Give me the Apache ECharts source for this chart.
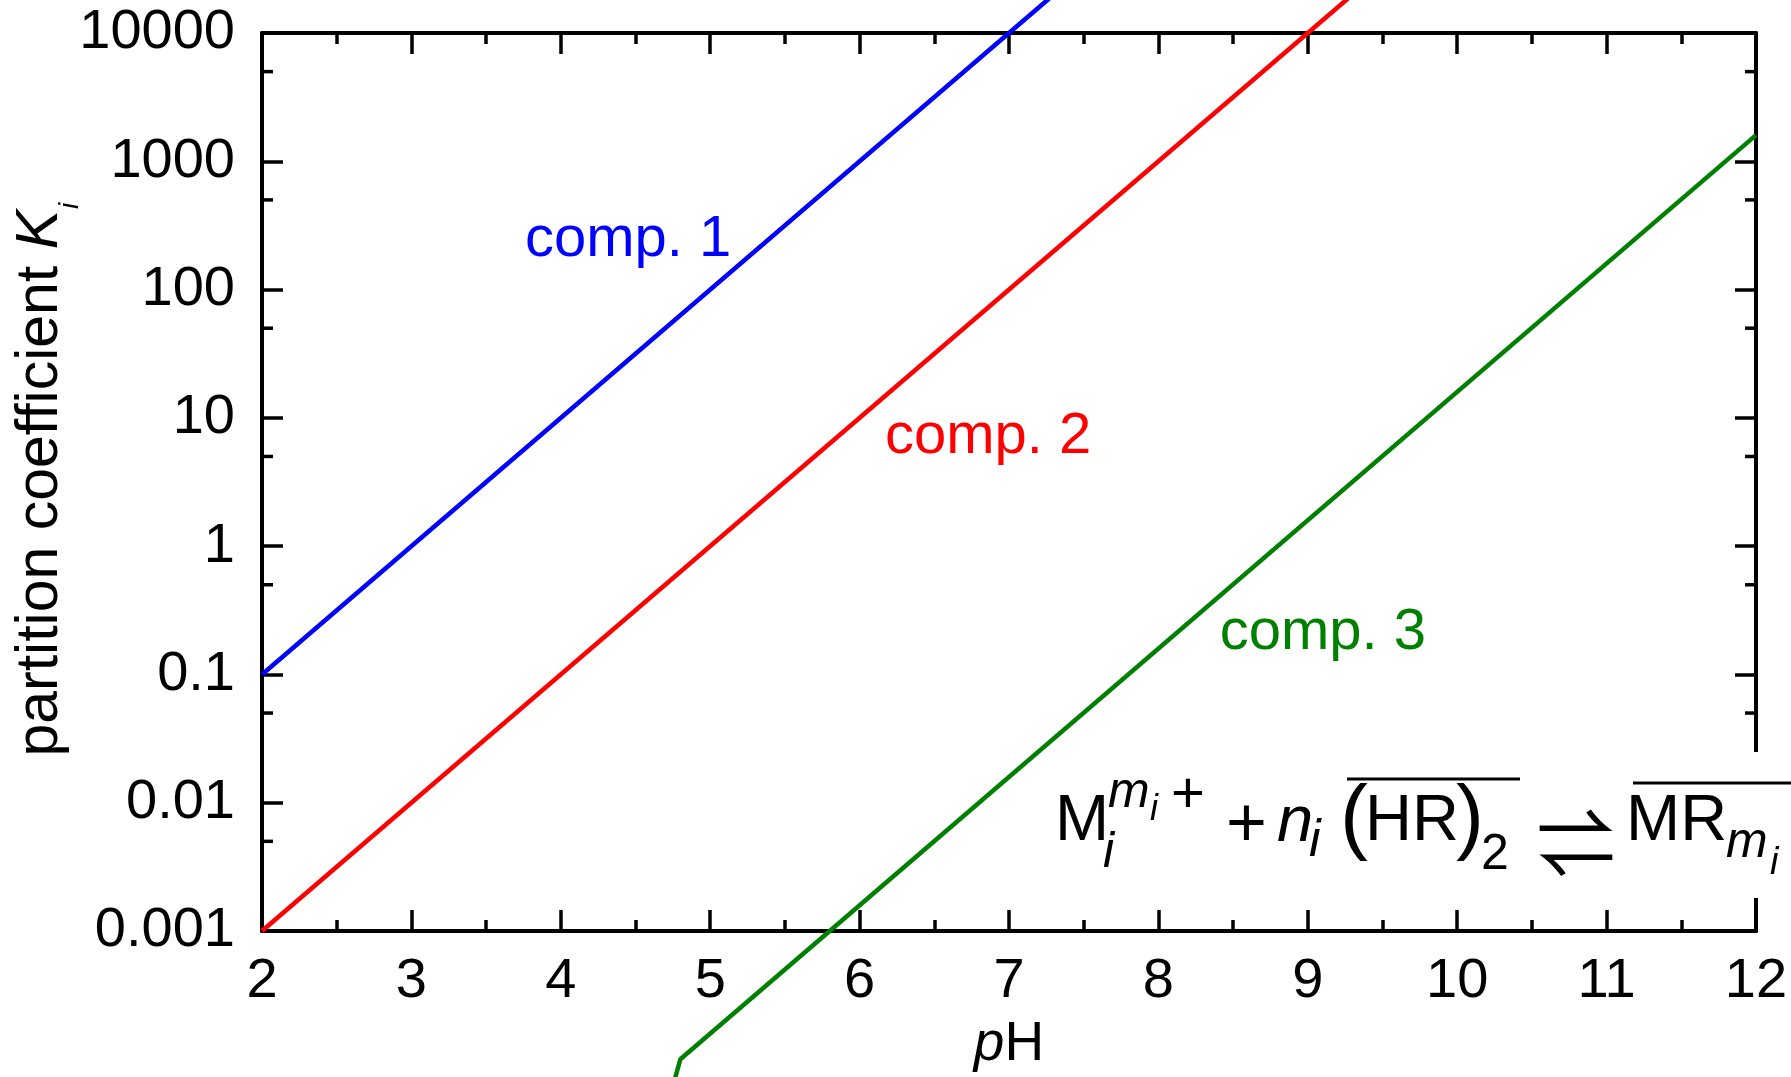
<!DOCTYPE html>
<html>
<head>
<meta charset="utf-8">
<script src="https://cdn.jsdelivr.net/npm/echarts@6/dist/echarts.min.js"></script>
<style>
  html, body { margin: 0; padding: 0; background: #fff; }
  #chart { width: 1791px; height: 1077px; }
</style>
</head>
<body>
<div id="chart"></div>
<script>
const FONT = '"Liberation Sans", Arial, sans-serif';

// pH range and log K tick labels
const xMin = 2;
const xMax = 12;
const yTickLabels = ['0.001', '0.01', '0.1', '1', '10', '100', '1000', '10000'];
const yMinorTicks = [0.005, 0.05, 0.5, 5, 50, 500, 5000];

// [pH, K]
const comp1 = [[2, 0.1], [7, 10000], [7.5, 31600]];
const comp2 = [[2, 0.001], [9, 10000], [9.5, 31600]];
const comp3 = [[4.7, 3.8e-5], [4.8, 1e-4], [5.8, 0.001], [12, 1600]];

const compNames = ['comp. 1', 'comp. 2', 'comp. 3'];
const compColors = ['#0000ff', '#ff0000', '#008000'];
const compLabelAt = [[3.76, 245], [6.17, 7.1], [8.41, 0.212]];

// equation pieces: text, x, baseline, size, italic
const eqParts = [
  ['M', 1055, 845, 65, false],
  ['m', 1108, 810, 50, true],
  ['i', 1150, 822, 36, true],
  ['+', 1171, 816, 58, false],
  ['i', 1103, 870, 50, true],
  ['+', 1226, 851, 70, false],
  ['n', 1277, 845, 65, true],
  ['i', 1309, 860, 52, true],
  ['(', 1340, 850, 84, false],
  ['HR', 1365, 845, 65, false],
  [')', 1456, 850, 84, false],
  ['2', 1481, 873, 50, false],
  ['MR', 1626, 845, 65, false],
  ['m', 1726, 860, 50, true],
  ['i', 1770, 877, 38, true]
];

const chart = echarts.init(document.getElementById('chart'));

function eqText(p) {
  return {
    type: 'text',
    x: p[1],
    y: p[2] - 0.3465 * p[3],
    z: 101,
    style: {
      text: p[0],
      fontFamily: FONT,
      fontSize: p[3],
      fontStyle: p[4] ? 'italic' : 'normal',
      fill: '#000',
      align: 'left',
      verticalAlign: 'middle'
    }
  };
}

function lineSeries(i, data) {
  return {
    name: compNames[i],
    type: 'line',
    data: data,
    clip: false,
    showSymbol: false,
    symbol: 'none',
    lineStyle: { color: compColors[i], width: 4.5 },
    z: 5,
    markPoint: {
      symbol: 'circle',
      symbolSize: 0,
      data: [{ coord: compLabelAt[i] }],
      label: {
        show: true,
        position: 'inside',
        formatter: compNames[i],
        align: 'left',
        verticalAlign: 'middle',
        color: compColors[i],
        fontFamily: FONT,
        fontSize: 58
      }
    }
  };
}

const axisLine = { show: true, onZero: false, lineStyle: { color: '#000', width: 4 } };
const tick = { show: true, inside: true, length: 21, lineStyle: { color: '#000', width: 3.5 } };
const minor = { show: true, splitNumber: 2, length: 11, lineStyle: { color: '#000', width: 3.5 } };

const option = {
  backgroundColor: '#fff',
  animation: false,
  grid: { left: 262, right: 35, top: 33, bottom: 145 },
  xAxis: [
    {
      type: 'value',
      min: xMin,
      max: xMax,
      interval: 1,
      position: 'bottom',
      axisLine: axisLine,
      axisTick: tick,
      minorTick: minor,
      splitLine: { show: false },
      axisLabel: { color: '#000', fontFamily: FONT, fontSize: 56, margin: 23 },
      name: '{p|p}H',
      nameLocation: 'middle',
      nameGap: 86,
      nameTextStyle: {
        color: '#000', fontFamily: FONT, fontSize: 55,
        rich: { p: { color: '#000', fontFamily: FONT, fontSize: 55, fontStyle: 'italic' } }
      }
    },
    {
      type: 'value',
      min: xMin,
      max: xMax,
      interval: 1,
      position: 'top',
      axisLine: axisLine,
      axisTick: tick,
      minorTick: minor,
      splitLine: { show: false },
      axisLabel: { show: false }
    }
  ],
  yAxis: [
    {
      type: 'log',
      logBase: 10,
      min: 0.001,
      max: 10000,
      splitNumber: 7,
      position: 'left',
      axisLine: axisLine,
      axisTick: tick,
      splitLine: { show: false },
      axisLabel: {
        color: '#000', fontFamily: FONT, fontSize: 56, margin: 27,
        formatter: v => yTickLabels[Math.round(Math.log10(v)) + 3]
      }
    },
    {
      type: 'log',
      logBase: 10,
      min: 0.001,
      max: 10000,
      splitNumber: 7,
      position: 'right',
      axisLine: axisLine,
      axisTick: tick,
      splitLine: { show: false },
      axisLabel: { show: false }
    }
  ],
  series: [
    lineSeries(0, comp1),
    lineSeries(1, comp2),
    lineSeries(2, comp3),
    {
      type: 'custom',
      coordinateSystem: 'cartesian2d',
      silent: true,
      clip: false,
      z: 3,
      data: yMinorTicks.map(v => [xMin, v]),
      renderItem: (params, api) => {
        const p = api.coord([xMin, api.value(1)]);
        const q = api.coord([xMax, api.value(1)]);
        return {
          type: 'group',
          children: [
            { type: 'line', shape: { x1: p[0], y1: p[1], x2: p[0] + 11, y2: p[1] }, style: { stroke: '#000', lineWidth: 3.5 } },
            { type: 'line', shape: { x1: q[0] - 11, y1: q[1], x2: q[0], y2: q[1] }, style: { stroke: '#000', lineWidth: 3.5 } }
          ]
        };
      }
    }
  ],
  graphic: [
    {
      type: 'group',
      x: 41,
      y: 210,
      rotation: Math.PI / 2,
      children: [
        {
          type: 'text', x: 0, y: 0,
          style: {
            text: 'partition coefficient {k|K}',
            fontFamily: FONT, fontSize: 59, fill: '#000',
            align: 'right', verticalAlign: 'middle',
            rich: { k: { fontFamily: FONT, fontSize: 59, fontStyle: 'italic', fill: '#000' } }
          }
        },
        {
          type: 'text', x: 1, y: 29,
          style: {
            text: 'i', fontFamily: FONT, fontSize: 28, fontStyle: 'italic', fill: '#000',
            align: 'left', verticalAlign: 'middle'
          }
        }
      ]
    },
    {
      type: 'rect',
      z: 100,
      shape: { x: 1052, y: 752, width: 739, height: 146 },
      style: { fill: '#fff' }
    },
    ...eqParts.map(eqText),
    {
      type: 'text',
      x: 1576,
      y: 843,
      z: 101,
      style: {
        text: '\u21CC', fontFamily: '"Noto Sans CJK SC", "DejaVu Sans"', fontSize: 79, fill: '#000',
        align: 'center', verticalAlign: 'middle'
      }
    },
    { type: 'line', z: 101, shape: { x1: 1347, y1: 779, x2: 1520, y2: 779 }, style: { stroke: '#000', lineWidth: 3 } },
    { type: 'line', z: 101, shape: { x1: 1633, y1: 783, x2: 1791, y2: 783 }, style: { stroke: '#000', lineWidth: 3 } }
  ]
};

chart.setOption(option);
</script>
</body>
</html>
